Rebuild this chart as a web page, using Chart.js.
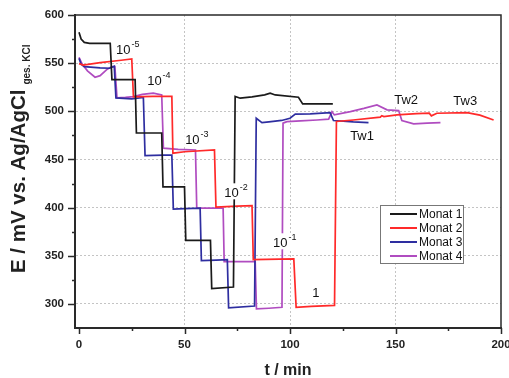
<!DOCTYPE html>
<html>
<head>
<meta charset="utf-8">
<script src="https://cdn.jsdelivr.net/npm/chart.js@4.4.0/dist/chart.umd.min.js"></script>
<style>
  html, body { margin: 0; padding: 0; background: #fff; }
</style>
</head>
<body>
<canvas id="chart" width="509" height="378"></canvas>
<script>
// series: time in min, potential in mV
const seriesNames = ['Monat 1', 'Monat 2', 'Monat 3', 'Monat 4'];

const monat1T = [0, 1, 2.5, 5, 14.8, 15.6, 26.6, 27.2, 39.2, 39.8, 50, 50.6, 62.3, 62.9, 73.2, 74, 76.4, 82, 88, 90.6, 93, 104, 106, 120.3];
const monat1E = [582, 575, 571.5, 570.5, 570.6, 533, 533, 477.5, 477.5, 421.5, 421.5, 366, 366, 316, 317.5, 515.5, 513.6, 515, 517, 518.8, 517, 514.6, 507.7, 507.7];

const monat2T = [0, 2, 10, 20, 25, 25.8, 35, 44, 44.5, 50, 64.2, 64.9, 75, 82, 82.6, 95, 101.8, 102.9, 110, 121.1, 122, 130, 142.8, 143.5, 144.5, 150.7, 160, 166, 167, 169.6, 183.9, 190, 196.5];
const monat2E = [549.5, 548, 550.5, 553, 554.4, 515, 515.5, 515.5, 456.5, 458, 460, 400.5, 401.5, 402, 346, 346.5, 346.8, 296.5, 297.5, 298.5, 489.5, 491, 494, 495.5, 494.5, 496.3, 497.5, 498, 495.3, 498, 498.7, 496, 491];

const monat3T = [0, 1, 2.5, 10, 14.5, 16.7, 17.5, 25, 30.5, 31.3, 40, 44, 44.7, 50, 57.4, 58, 65, 70.3, 70.9, 83.2, 84, 86.7, 90, 96, 100, 102.5, 109.6, 119, 120.6, 130, 137.2];
const monat3E = [555, 549, 546.4, 545, 544.7, 546.8, 514, 513, 514.5, 454, 454.5, 454.5, 398.5, 399, 399.5, 345, 345.5, 346, 296, 297.8, 492.8, 488.3, 489, 490.5, 492.8, 497, 497.3, 498.7, 490.4, 489, 488.3];

const monat4T = [0, 1.5, 4, 7.6, 10, 13, 15.5, 17, 18, 22, 25.8, 30, 35.2, 39.2, 40, 47, 55.2, 55.8, 62, 68.3, 68.8, 76, 83.5, 84.1, 90, 96.2, 96.7, 98.5, 105, 112.8, 118.3, 119.9, 121, 128.6, 135, 141.2, 146, 151.5, 153, 158.6, 165, 171.3];
const monat4E = [556, 549, 542, 535.4, 537, 543, 546.4, 546.4, 514, 514.5, 515.3, 517.5, 518.8, 517, 461.7, 460.5, 459.8, 399.5, 399.5, 399.5, 344, 344, 344, 294.8, 295.5, 296.5, 487.7, 489.3, 490, 491, 491.8, 499.7, 496.3, 499.7, 503, 506.6, 501.5, 500.8, 490.4, 487, 487.8, 488.3];

const xTicks = [0, 50, 100, 150, 200];
const yTicks = [300, 350, 400, 450, 500, 550, 600];

// annotations in the plot (text, exponent, anchor t, anchor E)
const noteText = ['10', '10', '10', '10', '10', '1', 'Tw1', 'Tw2', 'Tw3'];
const noteExp = ['-5', '-4', '-3', '-2', '-1', '', '', '', ''];
const noteT = [17.5, 32.3, 50.3, 68.8, 92, 110.5, 128.5, 149.4, 177.4];
const noteE = [560, 527, 465.7, 410.7, 358.8, 307, 469.8, 508, 507];

const colors = ['#1a1a1a', '#ff2a2a', '#2e2ea0', '#b04cc0'];
const axisColor = '#2a2a2a';
const gridColor = '#c4c4c4';
const fontFam = '"Liberation Sans", Arial, sans-serif';

const toPoints = (ts, es) => ts.map((t, i) => ({ x: t, y: es[i] }));
const allT = [monat1T, monat2T, monat3T, monat4T];
const allE = [monat1E, monat2E, monat3E, monat4E];

const datasets = seriesNames.map((name, i) => ({
  label: name,
  data: toPoints(allT[i], allE[i]),
  borderColor: colors[i],
  borderWidth: 1.7,
  pointRadius: 0,
  showLine: true,
  tension: 0,
  fill: false
}));

const extras = {
  id: 'extras',
  afterDraw(chart) {
    const { ctx, chartArea: a, scales: { x, y } } = chart;
    ctx.save();

    // top and right frame
    ctx.strokeStyle = axisColor;
    ctx.lineWidth = 1.5;
    ctx.beginPath();
    ctx.moveTo(a.left, a.top);
    ctx.lineTo(a.right, a.top);
    ctx.lineTo(a.right, a.bottom);
    ctx.stroke();

    // tick marks, major and minor
    ctx.lineWidth = 1.5;
    ctx.beginPath();
    for (let v = 0; v <= 200; v += 25) {
      const px = Math.round(x.getPixelForValue(v)) + 0.5;
      ctx.moveTo(px, a.bottom);
      ctx.lineTo(px, a.bottom + (v % 50 === 0 ? 6 : 3));
    }
    for (let v = 300; v <= 600; v += 25) {
      const py = Math.round(y.getPixelForValue(v)) + 0.5;
      ctx.moveTo(a.left, py);
      ctx.lineTo(a.left - (v % 50 === 0 ? 7 : 3), py);
    }
    ctx.stroke();

    // tick labels
    ctx.fillStyle = '#222';
    ctx.font = 'bold 11.5px ' + fontFam;
    ctx.textAlign = 'center';
    ctx.textBaseline = 'middle';
    xTicks.forEach(v => ctx.fillText(String(v), x.getPixelForValue(v), a.bottom + 17));
    ctx.textAlign = 'right';
    yTicks.forEach(v => ctx.fillText(String(v), a.left - 11, y.getPixelForValue(v)));

    // axis titles
    ctx.textAlign = 'center';
    ctx.textBaseline = 'alphabetic';
    ctx.font = 'bold 16px ' + fontFam;
    ctx.fillText('t / min', 288, 375);

    ctx.save();
    ctx.translate(25, 273);
    ctx.rotate(-Math.PI / 2);
    ctx.textAlign = 'left';
    ctx.font = 'bold 20.5px ' + fontFam;
    const yTitle = 'E / mV vs. Ag/AgCl';
    ctx.fillText(yTitle, 0, 0);
    const w = ctx.measureText(yTitle).width;
    ctx.font = 'bold 10px ' + fontFam;
    ctx.fillText('ges. KCl', w + 5, 5);
    ctx.restore();

    // annotations
    ctx.textAlign = 'left';
    ctx.textBaseline = 'alphabetic';
    noteText.forEach((txt, i) => {
      const px = x.getPixelForValue(noteT[i]);
      const py = y.getPixelForValue(noteE[i]);
      ctx.font = '13px ' + fontFam;
      const w1 = ctx.measureText(txt).width;
      ctx.font = '9px ' + fontFam;
      const w2 = noteExp[i] ? ctx.measureText(noteExp[i]).width + 1 : 0;
      ctx.fillStyle = '#fff';
      ctx.fillRect(px - 1, py - 14, w1 + w2 + 2, 16);
      ctx.fillStyle = '#111';
      ctx.font = '13px ' + fontFam;
      ctx.fillText(txt, px, py);
      if (noteExp[i]) {
        ctx.font = '9px ' + fontFam;
        ctx.fillText(noteExp[i], px + w1 + 1, py - 7);
      }
    });

    // legend box
    const lx = 380, ly = 205, lw = 83, lh = 58;
    ctx.fillStyle = '#fff';
    ctx.fillRect(lx, ly, lw, lh);
    ctx.strokeStyle = '#777';
    ctx.lineWidth = 1;
    ctx.strokeRect(lx + 0.5, ly + 0.5, lw, lh);
    ctx.font = '12px ' + fontFam;
    ctx.textBaseline = 'middle';
    seriesNames.forEach((name, i) => {
      const ry = ly + 9 + i * 14;
      ctx.strokeStyle = colors[i];
      ctx.lineWidth = 2;
      ctx.beginPath();
      ctx.moveTo(lx + 10, ry);
      ctx.lineTo(lx + 37, ry);
      ctx.stroke();
      ctx.fillStyle = '#111';
      ctx.fillText(name, lx + 39, ry + 1);
    });

    ctx.restore();
  }
};

new Chart(document.getElementById('chart'), {
  type: 'scatter',
  data: { datasets },
  options: {
    responsive: false,
    animation: false,
    events: [],
    layout: { padding: { top: 15, right: 8, left: 0, bottom: 0 }, autoPadding: false },
    plugins: { legend: { display: false }, tooltip: { enabled: false } },
    scales: {
      x: {
        type: 'linear',
        min: -1.9,
        max: 200,
        ticks: { display: false, stepSize: 25 },
        grid: {
          drawTicks: false,
          lineWidth: 1,
          color: c => (c.tick && c.tick.value % 50 === 0 && c.tick.value > -1 && c.tick.value < 200) ? gridColor : 'rgba(0,0,0,0)'
        },
        border: { display: true, color: axisColor, width: 2, dash: [2, 2] },
        afterFit: s => { s.height = 50; }
      },
      y: {
        type: 'linear',
        min: 275,
        max: 600,
        ticks: { display: false, stepSize: 25 },
        grid: {
          drawTicks: false,
          lineWidth: 1,
          color: c => (c.tick && c.tick.value % 50 === 0 && c.tick.value < 600) ? gridColor : 'rgba(0,0,0,0)'
        },
        border: { display: true, color: axisColor, width: 2, dash: [2, 2] },
        afterFit: s => { s.width = 75; }
      }
    }
  },
  plugins: [extras]
});
</script>
</body>
</html>
